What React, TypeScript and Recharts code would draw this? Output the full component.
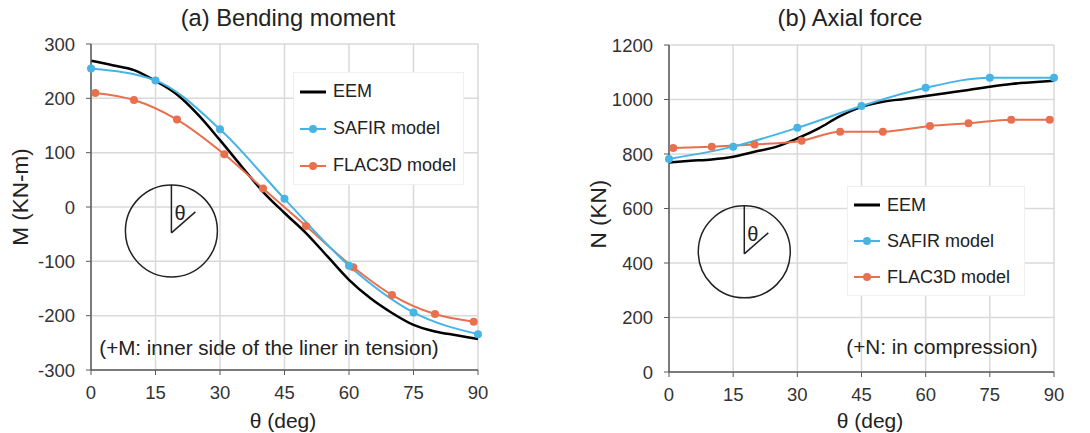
import React from "react";
import {
  LineChart,
  Line,
  XAxis,
  YAxis,
  CartesianGrid,
  ReferenceDot,
} from "recharts";

// theta positions (deg)
const thetaEEM = [0, 5, 10, 15, 20, 25, 30, 35, 40, 45, 50, 55, 60, 65, 70, 75, 80, 85, 90];
const thetaSafir = [0, 15, 30, 45, 60, 75, 90];
const thetaFlac = [1, 10, 20, 31, 40, 50, 61, 70, 80, 89];

// (a) bending moment, KN-m
const momentEEM = [269, 261, 252, 232, 207, 169, 123, 75, 28, -11, -48, -91, -134, -168, -195, -217, -229, -236, -243];
const momentSafir = [255, 233, 143, 15, -108, -194, -234];
const momentFlac = [210, 197, 161, 97, 34, -35, -111, -162, -197, -211];

// (b) axial force, KN
const axialEEM = [769, 775, 780, 790, 808, 826, 857, 894, 939, 973, 992, 1002, 1013, 1024, 1035, 1047, 1057, 1063, 1069];
const axialSafir = [782, 827, 896, 976, 1043, 1080, 1080];
const axialFlac = [822, 827, 835, 849, 882, 882, 903, 913, 926, 926];

const thetaTicks = [0, 15, 30, 45, 60, 75, 90];
const momentTicks = [-300, -200, -100, 0, 100, 200, 300];
const axialTicks = [0, 200, 400, 600, 800, 1000, 1200];

const FONT = "'Liberation Sans', Arial, sans-serif";
const BLUE = "#47b4e6";
const RED = "#e8704f";
const GRID = "#d9d9d9";
const AXIS = "#595959";

const toPts = (xs: number[], ys: number[]) => xs.map((t, i) => ({ theta: t, value: ys[i] }));

const legendItems = [
  { name: "EEM", color: "#000000", dot: false },
  { name: "SAFIR model", color: BLUE, dot: true },
  { name: "FLAC3D model", color: RED, dot: true },
];

function LegendBox({ left, top, width, gap }: { left: number; top: number; width: number; gap: number }) {
  return (
    <div
      style={{
        position: "absolute",
        left,
        top,
        width,
        boxSizing: "border-box",
        background: "#fff",
        border: "1px solid #efefef",
        fontFamily: FONT,
        fontSize: 18,
        color: "#222",
      }}
    >
      {legendItems.map((it) => (
        <div key={it.name} style={{ display: "flex", alignItems: "center", height: gap, paddingLeft: 6 }}>
          <svg width={26} height={12} style={{ marginRight: 7 }}>
            <line x1={0} y1={6} x2={26} y2={6} stroke={it.color} strokeWidth={it.dot ? 2 : 3} />
            {it.dot && <circle cx={13} cy={6} r={4} fill={it.color} />}
          </svg>
          <span>{it.name}</span>
        </div>
      ))}
    </div>
  );
}

function Inset(props: any) {
  const { cx, cy } = props;
  const r = 46;
  return (
    <g>
      <circle cx={cx} cy={cy} r={r} fill="none" stroke="#222" strokeWidth={1.5} />
      <line x1={cx} y1={cy - r} x2={cx} y2={cy + 2} stroke="#222" strokeWidth={1.5} />
      <line x1={cx} y1={cy + 2} x2={cx + 24} y2={cy - 19} stroke="#222" strokeWidth={1.5} />
      <text x={cx + 3} y={cy - 11} fontSize={20} fontFamily={FONT} fill="#222">
        θ
      </text>
    </g>
  );
}

const tickStyle = { fill: "#333", fontSize: 18.5, fontFamily: FONT };

function Text({ x, y, size, children, rotate }: any) {
  return (
    <div
      style={{
        position: "absolute",
        left: x,
        top: y,
        transform: `translate(-50%, -50%)${rotate ? " rotate(-90deg)" : ""}`,
        whiteSpace: "nowrap",
        fontFamily: FONT,
        fontSize: size,
        color: "#222",
      }}
    >
      {children}
    </div>
  );
}

function axisProps() {
  return {
    tick: tickStyle,
    axisLine: { stroke: AXIS, strokeWidth: 1.5 },
    tickLine: { stroke: AXIS },
    tickSize: 5,
    tickMargin: 11,
  };
}

export default function App() {
  return (
    <div style={{ position: "absolute", left: 0, top: 0, width: 1090, height: 433, background: "#fff" }}>
      <div style={{ position: "absolute", left: 0, top: 0 }}>
        <LineChart width={545} height={433} margin={{ top: 44, right: 67, left: 31, bottom: 33 }}>
          <CartesianGrid stroke={GRID} strokeWidth={1.5} />
          <XAxis dataKey="theta" type="number" domain={[0, 90]} ticks={thetaTicks} height={30} {...axisProps()} />
          <YAxis type="number" domain={[-300, 300]} ticks={momentTicks} width={60} {...axisProps()} />
          <ReferenceDot x={18.7} y={-44} shape={<Inset />} ifOverflow="visible" />
          <Line data={toPts(thetaEEM, momentEEM)} dataKey="value" type="monotone" stroke="#000" strokeWidth={2.5} dot={false} isAnimationActive={false} />
          <Line data={toPts(thetaFlac, momentFlac)} dataKey="value" type="monotone" stroke={RED} strokeWidth={2} dot={{ r: 4, fill: RED, stroke: RED, strokeWidth: 0 }} isAnimationActive={false} />
          <Line data={toPts(thetaSafir, momentSafir)} dataKey="value" type="monotone" stroke={BLUE} strokeWidth={2} dot={{ r: 4, fill: BLUE, stroke: BLUE, strokeWidth: 0 }} isAnimationActive={false} />
        </LineChart>
      </div>
      <div style={{ position: "absolute", left: 545, top: 0 }}>
        <LineChart width={545} height={433} margin={{ top: 45, right: 36, left: 64, bottom: 31 }}>
          <CartesianGrid stroke={GRID} strokeWidth={1.5} />
          <XAxis dataKey="theta" type="number" domain={[0, 90]} ticks={thetaTicks} height={30} {...axisProps()} />
          <YAxis type="number" domain={[0, 1200]} ticks={axialTicks} width={60} {...axisProps()} />
          <ReferenceDot x={17.6} y={441} shape={<Inset />} ifOverflow="visible" />
          <Line data={toPts(thetaEEM, axialEEM)} dataKey="value" type="monotone" stroke="#000" strokeWidth={2.5} dot={false} isAnimationActive={false} />
          <Line data={toPts(thetaFlac, axialFlac)} dataKey="value" type="monotone" stroke={RED} strokeWidth={2} dot={{ r: 4, fill: RED, stroke: RED, strokeWidth: 0 }} isAnimationActive={false} />
          <Line data={toPts(thetaSafir, axialSafir)} dataKey="value" type="monotone" stroke={BLUE} strokeWidth={2} dot={{ r: 4, fill: BLUE, stroke: BLUE, strokeWidth: 0 }} isAnimationActive={false} />
        </LineChart>
      </div>

      <LegendBox left={293} top={72} width={171} gap={37} />
      <LegendBox left={847} top={186} width={178} gap={36} />

      <Text x={288} y={18} size={23.7}>(a) Bending moment</Text>
      <Text x={850} y={18} size={23.7}>(b) Axial force</Text>
      <Text x={21} y={197} size={22.5} rotate>M (KN-m)</Text>
      <Text x={599} y={214} size={22.5} rotate>N (KN)</Text>
      <Text x={283} y={421} size={21}>θ (deg)</Text>
      <Text x={870} y={421} size={21}>θ (deg)</Text>
      <Text x={269} y={348} size={20.6}>(+M: inner side of the liner in tension)</Text>
      <Text x={942} y={347} size={20.7}>(+N: in compression)</Text>
    </div>
  );
}
